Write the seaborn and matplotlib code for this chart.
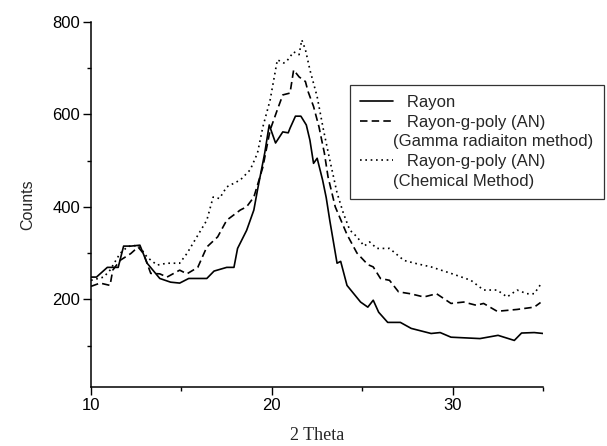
import numpy as np
import pandas as pd
import matplotlib
matplotlib.use("Agg")
import matplotlib.pyplot as plt
from matplotlib.lines import Line2D
from matplotlib.ticker import MultipleLocator
import seaborn as sns

rayon_x = [10.0, 10.3, 10.9, 11.5, 11.8, 12.2, 12.7, 13.1, 13.8, 14.4, 14.9, 15.4, 16.4, 16.8,
           17.5, 17.9, 18.1, 18.6, 19.0, 19.2, 19.6, 19.85, 20.2, 20.6, 20.9, 21.0, 21.3, 21.6,
           21.9, 22.1, 22.3, 22.5, 22.8, 23.0, 23.2, 23.6, 23.8, 24.15, 24.9, 25.3, 25.6, 25.9,
           26.4, 27.1, 27.7, 28.8, 29.3, 29.9, 31.5, 32.5, 33.4, 33.8, 34.5, 35.0]
rayon_y = [248, 248, 269, 269, 315, 315, 317, 278, 245, 237, 235, 245, 245, 261,
           269, 269, 310, 349, 393, 436, 516, 577, 538, 562, 560, 570, 596, 596,
           577, 544, 494, 505, 458, 420, 370, 278, 282, 230, 194, 183, 198, 172,
           150, 150, 137, 126, 128, 118, 115, 122, 111, 127, 128, 126]

gamma_x = [10.0, 10.5, 11.05, 11.2, 11.6, 12.2, 12.6, 12.9, 13.3, 13.8, 14.2, 14.9, 15.3, 15.9,
           16.4, 17.0, 17.5, 18.25, 18.6, 19.0, 19.5, 19.9, 20.3, 20.6, 21.0, 21.2, 21.5, 21.85,
           22.0, 22.3, 22.6, 22.9, 23.1, 23.5, 24.15, 24.7, 25.3, 25.6, 26.0, 26.5, 27.0, 27.65,
           28.4, 29.1, 29.9, 30.6, 31.3, 31.7, 32.45, 33.55, 34.5, 34.85]
gamma_y = [228, 235, 230, 263, 284, 299, 313, 299, 256, 255, 248, 263, 255, 269,
           313, 335, 371, 393, 400, 421, 486, 566, 610, 642, 646, 696, 681, 671,
           649, 617, 573, 516, 465, 400, 340, 300, 275, 270, 245, 241, 216, 212,
           205, 212, 191, 194, 187, 191, 174, 178, 183, 193]

chem_x = [10.0, 10.7, 11.05, 11.6, 12.0, 12.3, 12.7, 13.1, 13.65, 14.2, 14.9, 15.3, 15.85, 16.4,
          16.75, 17.1, 17.5, 18.25, 18.8, 19.2, 19.5, 19.9, 20.3, 20.65, 20.8, 21.2, 21.5, 21.65,
          21.85, 22.1, 22.5, 22.85, 23.2, 23.6, 23.95, 24.3, 24.7, 25.1, 25.4, 25.8, 26.5, 27.3,
          28.0, 28.8, 29.9, 31.0, 31.7, 32.45, 33.0, 33.55, 34.1, 34.5, 34.85]
chem_y = [241, 248, 263, 299, 313, 317, 313, 291, 274, 278, 278, 299, 335, 371,
          421, 418, 443, 458, 480, 516, 573, 631, 718, 711, 714, 735, 729, 761,
          740, 696, 638, 566, 501, 430, 386, 350, 335, 315, 324, 310, 310, 284,
          277, 270, 256, 241, 220, 220, 205, 220, 212, 212, 232]

labels_1 = "   Rayon"
labels_2 = ["   Rayon-g-poly (AN)", "(Gamma radiaiton method)"]
labels_3 = ["   Rayon-g-poly (AN)", "(Chemical Method)"]

sns.set_style("white")
plt.rcParams['font.family'] = ['Liberation Sans', 'DejaVu Sans']

fig = plt.figure(figsize=(6.07, 4.46), dpi=100)
ax = fig.add_axes([0.150, 0.132, 0.745, 0.819])

dash = (0, (4.5, 2.5))
dot = (0, (1, 2.2))

sns.lineplot(x=rayon_x, y=rayon_y, ax=ax, color='black', lw=1.2, linestyle='-',
             sort=False, estimator=None)
sns.lineplot(x=gamma_x, y=gamma_y, ax=ax, color='black', lw=1.2, linestyle=dash,
             sort=False, estimator=None)
sns.lineplot(x=chem_x, y=chem_y, ax=ax, color='black', lw=1.2, linestyle=dot,
             sort=False, estimator=None)

ax.set_xlim(10, 35)
ax.set_ylim(10, 800)
ax.xaxis.set_major_locator(MultipleLocator(10))
ax.xaxis.set_minor_locator(MultipleLocator(5))
ax.yaxis.set_major_locator(MultipleLocator(200))
ax.yaxis.set_minor_locator(MultipleLocator(100))
ax.set_yticks([200, 400, 600, 800])

sns.despine(ax=ax)
for s in ['left', 'bottom']:
    ax.spines[s].set_color('black')
    ax.spines[s].set_linewidth(1.1)

ax.tick_params(which='major', direction='out', length=6, width=1, color='black',
               labelsize=12, labelcolor='black', pad=2, left=True, bottom=True)
ax.tick_params(which='minor', direction='out', length=3, width=1, color='black',
               left=True, bottom=True)

ax.set_ylabel("Counts", fontsize=11.5, labelpad=12)
ax.set_xlabel("2 Theta", fontsize=13, family=['Liberation Serif', 'DejaVu Serif'], labelpad=10)

blank = Line2D([], [], color='none')
handles = [Line2D([], [], color='black', lw=1.2, linestyle='-'),
           Line2D([], [], color='black', lw=1.2, linestyle=dash), blank,
           Line2D([], [], color='black', lw=1.2, linestyle=dot), blank]
texts = [labels_1, labels_2[0], labels_2[1], labels_3[0], labels_3[1]]
leg = ax.legend(handles, texts, loc='upper left', bbox_to_anchor=(350 / 607, 1 - 85 / 446),
                bbox_transform=fig.transFigure, borderaxespad=0, fontsize=12,
                frameon=True, fancybox=False, handlelength=2.0, handletextpad=0.0,
                labelspacing=0.28, borderpad=0.6)
leg.get_frame().set_edgecolor('black')
leg.get_frame().set_linewidth(0.9)

fig.savefig("out.png", dpi=100, facecolor='white')
